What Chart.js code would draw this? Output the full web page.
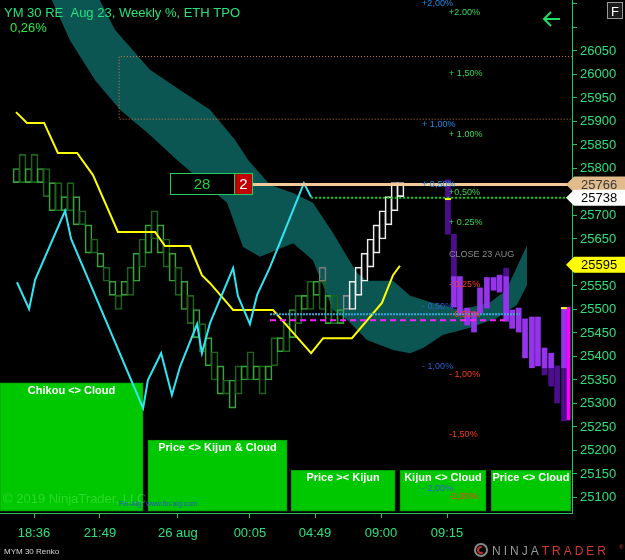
<!DOCTYPE html>
<html>
<head>
<meta charset="utf-8">
<script src="https://cdn.jsdelivr.net/npm/chart.js@4.4.1/dist/chart.umd.min.js"></script>
<style>
  html, body { margin: 0; padding: 0; background: #000; }
</style>
</head>
<body>
<canvas id="tpoChart" width="625" height="560"></canvas>
<script>
// x is in renko column units (one brick per column), y is the YM price
const priceMin = 25067;
const priceMax = 26158.5;
const colMin = -2.75;
const colMax = 92.58;

const timeTicks = [2.92, 13.9, 26.9, 38.9, 49.75, 60.75, 71.75];
const timeLabels = ['18:36', '21:49', '26 aug', '00:05', '04:49', '09:00', '09:15'];

// green renko bricks, column 0..54
const greenHigh = [25800, 25830, 25800, 25830, 25800, 25800, 25770, 25770, 25740, 25770,
  25740, 25710, 25680, 25650, 25620, 25590, 25560, 25530, 25560, 25590,
  25620, 25650, 25680, 25710, 25680, 25650, 25620, 25590, 25560, 25530,
  25500, 25470, 25440, 25410, 25380, 25350, 25350, 25380, 25380, 25410,
  25380, 25380, 25380, 25440, 25440, 25470, 25500, 25530, 25530, 25560,
  25560, 25560, 25530, 25530, 25500];
const greenLow = [25770, 25770, 25770, 25770, 25770, 25740, 25710, 25710, 25710, 25710,
  25680, 25680, 25620, 25620, 25590, 25560, 25530, 25500, 25530, 25530,
  25560, 25590, 25620, 25650, 25620, 25590, 25560, 25530, 25500, 25470,
  25440, 25410, 25380, 25350, 25320, 25320, 25290, 25320, 25350, 25350,
  25350, 25320, 25350, 25380, 25410, 25410, 25440, 25470, 25500, 25500,
  25530, 25500, 25470, 25470, 25470];

// white (live) renko bricks, column 55..64
const whiteStart = 55;
const whiteHigh = [25530, 25560, 25590, 25620, 25650, 25680, 25710, 25740, 25770, 25770];
const whiteLow = [25500, 25500, 25530, 25560, 25590, 25620, 25650, 25680, 25710, 25740];
const ghostCol = [51];
const ghostHigh = [25590];
const ghostLow = [25560];

// TPO bars on the right
const tpoX = [71.9, 72.9, 73.9, 75.1, 76.25, 77.25, 78.4, 79.5, 80.5, 81.6,
  82.6, 83.7, 84.75, 85.9, 86.9, 88, 89.1, 90.1, 91.25];
const tpoHigh = [null, 25570, 25570, 25503, 25495, 25546, 25568, 25568, 25573, 25570,
  25499, 25503, 25480, 25484, 25484, 25418, 25407, null, 25503];
const tpoLow = [null, 25505, 25488, 25467, 25452, 25492, 25503, 25541, 25537, 25475,
  25460, 25452, 25397, 25376, 25380, 25376, 25376, null, 25376];
const tpoDarkHigh = [25776, 25660, null, null, null, null, null, null, null, 25588,
  null, null, null, null, null, 25376, 25376, 25380, 25376];
const tpoDarkLow = [25660, 25570, null, null, null, null, null, null, null, 25570,
  null, null, null, null, null, 25361, 25337, 25301, 25263];
const rangeBarX = [92.0];
const rangeBar = [[25265, 25505]];
const closeMarkX = [71.9, 91.25];
const closeMarkY = [25735, 25503];

// ichimoku lines
const kijunX = [-0.08, 1.75, 4.6, 6.9, 10.1, 12.75, 16.9, 23.1, 24.75, 28.9, 30.9,
  32.25, 35.1, 36.1, 42.75, 49.1, 51.1, 55.9, 60.9, 62.75, 63.9];
const kijunY = [25920, 25897, 25897, 25833, 25833, 25786, 25665, 25665, 25635, 25635, 25573,
  25556, 25514, 25499, 25499, 25407, 25439, 25439, 25514, 25573, 25593];
const chikouX = [0.08, 2.1, 3.1, 8.1, 9.1, 21.1, 21.9, 24.1, 25.9, 27.25, 30.1,
  30.9, 32.25, 36.1, 36.9, 38.9, 40.1, 42.25, 45.1, 47.9, 49.1];
const chikouY = [25558, 25501, 25563, 25710, 25650, 25290, 25350, 25407, 25318, 25378, 25469,
  25407, 25471, 25588, 25529, 25469, 25531, 25590, 25680, 25769, 25739];
const spanAX = [3.9, 13.9, 16.4, 22.25, 27.25, 32.25, 36.4, 38.6, 41.1, 42.25, 46.1, 49.4,
  52.75, 55.1, 56.75, 58.4, 62.75, 65.6, 68.9, 73.9, 78.9, 81.6, 85.1];
const spanAY = [26286, 26158, 26095, 26010, 25967, 25925, 25861, 25818, 25782, 25765, 25748, 25727,
  25663, 25612, 25578, 25561, 25561, 25529, 25516, 25499, 25515, 25541, 25637];
const spanBX = [2.25, 5.9, 8.9, 13.1, 17.25, 22.25, 26.75, 35.1, 37.75, 40.6, 46.1, 49.4,
  52.75, 55.1, 58.4, 62.75, 65.6, 67.75, 71.1, 75.6, 80.1, 83.4, 85.1];
const spanBY = [26201, 26158, 26073, 25988, 25925, 25871, 25818, 25727, 25633, 25612, 25641, 25605,
  25499, 25478, 25435, 25414, 25407, 25418, 25446, 25461, 25482, 25510, 25552];

// horizontal levels
const lastPrice = 25766;
const bidPrice = 25738;
const closePrice = 25595;
const weeklyMid = 25490;
const dailyMid = 25477;
const zoneTop = 26038;
const zoneBottom = 25905;

const weeklyLabels = ['+2,00%', '+ 1,00%', '+ 0,50%', '- 0,50%', '- 1,00%', '- 2,00%'];
const weeklyPrices = [26150, 25893, 25765, 25507, 25378, 25120];
const dailyLabels = ['+2.00%', '+ 1,50%', '+ 1.00%', '+0,50%', '+ 0.25%', 'CLOSE 23 AUG',
  '- 0,25%', '- 0,50%', '- 1,00%', '-1,50%', '-2,00%'];
const dailyPrices = [26131, 26003, 25873, 25748, 25684, 25618, 25554, 25490, 25361, 25233, 25103];

// signal panel
const sigLabels = ['Chikou <> Cloud', 'Price <> Kijun & Cloud', 'Price >< Kijun', 'Kijun <> Cloud', 'Price <> Cloud'];
const sigFrom = [-2.75, 21.9, 45.75, 63.9, 79.1];
const sigTo = [21.1, 45.1, 63.1, 78.25, 92.4];
const sigTop = [25344, 25222, 25158, 25158, 25158];
const sigBase = 25071;

const FONT = '"Liberation Sans", Arial, sans-serif';
const axisGreen = '#27c466';
const labelGreen = '#2ee07c';
const pxPerCol = 6;

const pts = (xs, ys) => xs.map((x, i) => ({ x: x, y: ys[i] }));
const hline = (x0, x1, y) => [{ x: x0, y: y }, { x: x1, y: y }];

const signalSets = sigLabels.map((lab, i) => ({
    type: 'bar',
    label: lab,
    data: [{ x: (sigFrom[i] + sigTo[i]) / 2, y: [sigBase, sigTop[i]] }],
    barThickness: (sigTo[i] - sigFrom[i]) * pxPerCol,
    backgroundColor: '#00c800',
    borderColor: '#00a000',
    borderWidth: 1,
    borderSkipped: false,
    grouped: false,
    order: 100
}));

const tpoBright = [];
const tpoDark = [];
tpoX.forEach((x, i) => {
    if (tpoHigh[i] !== null) tpoBright.push({ x: x, y: [tpoLow[i], tpoHigh[i]] });
    if (tpoDarkHigh[i] !== null) tpoDark.push({ x: x, y: [tpoDarkLow[i], tpoDarkHigh[i]] });
});

const lineBase = { type: 'line', pointRadius: 0, tension: 0, fill: false };

const datasets = [
    ...signalSets,
    Object.assign({}, lineBase, {
        label: 'Senkou A', data: pts(spanAX, spanAY),
        borderColor: 'rgba(0,0,0,0)', borderWidth: 1,
        fill: '+1', backgroundColor: '#0b5653', order: 90
    }),
    Object.assign({}, lineBase, {
        label: 'Senkou B', data: pts(spanBX, spanBY),
        borderColor: 'rgba(0,0,0,0)', borderWidth: 1, order: 91
    }),
    {
        type: 'bar', label: 'Renko',
        data: greenHigh.map((h, i) => ({ x: i, y: [greenLow[i], h] })),
        barThickness: 7, backgroundColor: 'rgba(0,0,0,0)',
        borderColor: c => (c.dataIndex % 2 ? '#1d621d' : '#37a337'),
        borderWidth: 1, borderSkipped: false, grouped: false, order: 80
    },
    {
        type: 'bar', label: 'Renko ghost',
        data: ghostCol.map((x, i) => ({ x: x, y: [ghostLow[i], ghostHigh[i]] })),
        barThickness: 7, backgroundColor: 'rgba(0,0,0,0)', borderColor: '#7a7a7a',
        borderWidth: 1, borderSkipped: false, grouped: false, order: 79
    },
    {
        type: 'bar', label: 'Renko live',
        data: whiteHigh.map((h, i) => ({ x: whiteStart + i, y: [whiteLow[i], h] })),
        barThickness: 7, backgroundColor: 'rgba(0,0,0,0)',
        borderColor: c => (c.dataIndex === 0 ? '#8a8a8a' : '#eeeeee'),
        borderWidth: 1, borderSkipped: false, grouped: false, order: 78
    },
    Object.assign({}, lineBase, {
        label: 'Zone',
        data: [{ x: colMax, y: zoneTop }, { x: 17.1, y: zoneTop }, { x: 17.1, y: zoneBottom }, { x: colMax, y: zoneBottom }],
        borderColor: '#dc7c44', borderWidth: 1, borderDash: [1, 2], order: 70
    }),
    Object.assign({}, lineBase, {
        label: 'Kijun', data: pts(kijunX, kijunY),
        borderColor: '#ffff00', borderWidth: 2, order: 60
    }),
    Object.assign({}, lineBase, {
        label: 'Chikou', data: pts(chikouX, chikouY),
        borderColor: '#30e6f4', borderWidth: 2, order: 55
    }),
    {
        type: 'bar', label: 'TPO dark', data: tpoDark,
        barThickness: 5, backgroundColor: '#4c0e8e', borderWidth: 0, grouped: false, order: 45
    },
    {
        type: 'bar', label: 'TPO', data: tpoBright,
        barThickness: 5, backgroundColor: '#9534ec', borderWidth: 0, grouped: false, order: 44
    },
    {
        type: 'bar', label: 'Range', data: rangeBarX.map((x, i) => ({ x: x, y: rangeBar[i] })),
        barThickness: 3, backgroundColor: '#ff00ff', borderWidth: 0, grouped: false, order: 43
    },
    Object.assign({}, lineBase, {
        label: 'Weekly mid', data: hline(42.25, 83.9, weeklyMid),
        borderColor: '#3aa8dc', borderWidth: 2, borderDash: [2, 1], order: 35
    }),
    Object.assign({}, lineBase, {
        label: 'Daily mid', data: hline(42.25, 81.4, dailyMid),
        borderColor: '#ff22ff', borderWidth: 2, borderDash: [6, 4], order: 34
    }),
    Object.assign({}, lineBase, {
        label: 'Bid', data: hline(49.1, colMax, bidPrice),
        borderColor: '#00dd00', borderWidth: 2, borderDash: [2, 2], order: 21
    }),
    Object.assign({}, lineBase, {
        label: 'Last', data: hline(25.6, colMax, lastPrice),
        borderColor: '#f4c99c', borderWidth: 3, order: 20
    }),
    Object.assign({}, lineBase, {
        label: 'Close marks', data: pts(closeMarkX, closeMarkY), showLine: false,
        pointRadius: 3, pointStyle: 'line', pointBorderColor: '#ffff00', pointBorderWidth: 2, order: 10
    })
];

function priceFlag(ctx, y, text, fill, color) {
    ctx.beginPath();
    ctx.moveTo(566, y);
    ctx.lineTo(574, y - 8);
    ctx.lineTo(625, y - 8);
    ctx.lineTo(625, y + 8);
    ctx.lineTo(574, y + 8);
    ctx.closePath();
    ctx.fillStyle = fill;
    ctx.fill();
    ctx.fillStyle = color;
    ctx.font = '13px ' + FONT;
    ctx.textAlign = 'left';
    ctx.textBaseline = 'middle';
    ctx.fillText(text, 581, y + 1);
}

const overlay = {
    id: 'overlay',
    beforeDraw(chart) {
        const ctx = chart.ctx;
        ctx.save();
        ctx.fillStyle = '#000';
        ctx.fillRect(0, 0, chart.width, chart.height);
        ctx.restore();
    },
    afterDatasetsDraw(chart) {
        const ctx = chart.ctx;
        const xs = chart.scales.x;
        const ys = chart.scales.y;
        ctx.save();

        // percent levels
        ctx.font = '9px ' + FONT;
        ctx.textAlign = 'left';
        ctx.textBaseline = 'middle';
        weeklyLabels.forEach((t, i) => {
            ctx.fillStyle = weeklyPrices[i] > closePrice ? '#1e8ce6' : '#2f5fd2';
            ctx.fillText(t, xs.getPixelForValue(67.6), ys.getPixelForValue(weeklyPrices[i]));
        });
        dailyLabels.forEach((t, i) => {
            let c = '#33dd55';
            if (t.indexOf('CLOSE') === 0) c = '#8c8c8c';
            else if (t.charAt(0) === '-') c = '#ff3c14';
            ctx.fillStyle = c;
            ctx.fillText(t, xs.getPixelForValue(72.1), ys.getPixelForValue(dailyPrices[i]));
        });

        // signal panel captions
        ctx.font = 'bold 11px ' + FONT;
        ctx.textAlign = 'center';
        ctx.fillStyle = '#ffffff';
        signalSets.forEach((s, i) => {
            const bar = chart.getDatasetMeta(i).data[0];
            ctx.fillText(sigLabels[i], bar.x, bar.y + 8);
        });

        // brick counter
        ctx.fillStyle = '#000';
        ctx.fillRect(170.5, 173.5, 82, 21);
        ctx.strokeStyle = '#22cc66';
        ctx.lineWidth = 1;
        ctx.strokeRect(170.5, 173.5, 82, 21);
        ctx.fillStyle = '#c00000';
        ctx.fillRect(235, 174, 17, 20);
        ctx.beginPath();
        ctx.moveTo(234.5, 173.5);
        ctx.lineTo(234.5, 194.5);
        ctx.stroke();
        ctx.font = '15px ' + FONT;
        ctx.fillStyle = '#22cc44';
        ctx.fillText('28', 202, 185);
        ctx.fillStyle = '#ffffff';
        ctx.fillText('2', 243.5, 185);

        // watermark
        ctx.textAlign = 'left';
        ctx.font = '13px ' + FONT;
        ctx.fillStyle = 'rgba(130,255,130,0.32)';
        ctx.fillText('\u00a9 2019 NinjaTrader, LLC', 3, 499);
        ctx.font = '7px ' + FONT;
        ctx.fillStyle = '#2a55d0';
        ctx.fillText('Fin-Alg', 119, 504);
        ctx.fillText('www.fin-alg.com', 146, 504);
        ctx.restore();
    },
    afterDraw(chart) {
        const ctx = chart.ctx;
        const ys = chart.scales.y;
        ctx.save();

        priceFlag(ctx, ys.getPixelForValue(closePrice), String(closePrice), '#ffff00', '#000');
        priceFlag(ctx, ys.getPixelForValue(lastPrice), String(lastPrice), '#e2bb8c', '#3a3a3a');
        priceFlag(ctx, ys.getPixelForValue(bidPrice), String(bidPrice), '#ffffff', '#000');

        // title
        ctx.textAlign = 'left';
        ctx.textBaseline = 'alphabetic';
        ctx.font = '13px ' + FONT;
        ctx.fillStyle = '#25e27a';
        ctx.fillText('YM 30 RE  Aug 23, Weekly %, ETH TPO', 4, 17);
        ctx.fillStyle = '#33e83a';
        ctx.fillText('0,26%', 10, 32);

        // back arrow
        ctx.strokeStyle = '#22dd66';
        ctx.lineWidth = 2;
        ctx.beginPath();
        ctx.moveTo(560, 19);
        ctx.lineTo(544, 19);
        ctx.moveTo(551, 12);
        ctx.lineTo(544, 19);
        ctx.lineTo(551, 26);
        ctx.stroke();

        // F button
        ctx.fillStyle = '#1a1a1a';
        ctx.fillRect(607, 2, 16, 17);
        ctx.strokeStyle = '#9a9a9a';
        ctx.lineWidth = 1;
        ctx.strokeRect(607.5, 2.5, 15, 16);
        ctx.fillStyle = '#ffffff';
        ctx.font = '13px ' + FONT;
        ctx.textAlign = 'center';
        ctx.fillText('F', 615, 16);

        // footer
        ctx.textAlign = 'left';
        ctx.font = '8px ' + FONT;
        ctx.fillStyle = '#d8d8d8';
        ctx.fillText('MYM 30 Renko', 4, 554);

        ctx.lineWidth = 2;
        ctx.strokeStyle = '#8a8a8a';
        ctx.beginPath();
        ctx.arc(481, 550, 6, 0, Math.PI * 2);
        ctx.stroke();
        ctx.strokeStyle = '#c8302a';
        ctx.beginPath();
        ctx.arc(481, 550, 3, Math.PI * 0.3, Math.PI * 1.6);
        ctx.stroke();
        ctx.font = '12px ' + FONT;
        ctx.letterSpacing = '3px';
        ctx.fillStyle = '#9a9a9a';
        ctx.fillText('NINJA', 492, 555);
        const w = ctx.measureText('NINJA').width;
        ctx.fillStyle = '#d23a2a';
        ctx.fillText('TRADER', 492 + w, 555);
        ctx.letterSpacing = '0px';
        ctx.font = '6px ' + FONT;
        ctx.fillText('\u00ae', 619, 549);
        ctx.restore();
    }
};

Chart.defaults.font.family = FONT;

new Chart(document.getElementById('tpoChart'), {
    type: 'bar',
    data: { datasets: datasets },
    options: {
        responsive: false,
        animation: false,
        layout: { padding: 0, autoPadding: false },
        plugins: { legend: { display: false }, tooltip: { enabled: false } },
        scales: {
            x: {
                type: 'linear',
                min: colMin,
                max: colMax,
                offset: false,
                afterBuildTicks: s => { s.ticks = timeTicks.map(v => ({ value: v })); },
                afterFit: s => { s.height = 47; s.paddingLeft = 0; s.paddingRight = 0; },
                border: { display: true, color: axisGreen, width: 1 },
                grid: { display: true, drawOnChartArea: false, drawTicks: true, tickLength: 5, color: axisGreen, offset: false },
                ticks: {
                    autoSkip: false, maxRotation: 0, padding: 8,
                    color: labelGreen, font: { size: 13 },
                    callback: (v, i) => timeLabels[i]
                }
            },
            y: {
                position: 'right',
                min: priceMin,
                max: priceMax,
                afterFit: s => { s.width = 53; s.paddingTop = 0; s.paddingBottom = 0; },
                border: { display: true, color: axisGreen, width: 1 },
                grid: { display: true, drawOnChartArea: false, drawTicks: true, tickLength: 5, color: axisGreen },
                ticks: {
                    stepSize: 50, includeBounds: false, autoSkip: false, padding: 3,
                    color: labelGreen, font: { size: 13 },
                    callback: v => (v > 26050 ? '' : String(v))
                }
            }
        }
    },
    plugins: [overlay]
});
</script>
</body>
</html>
